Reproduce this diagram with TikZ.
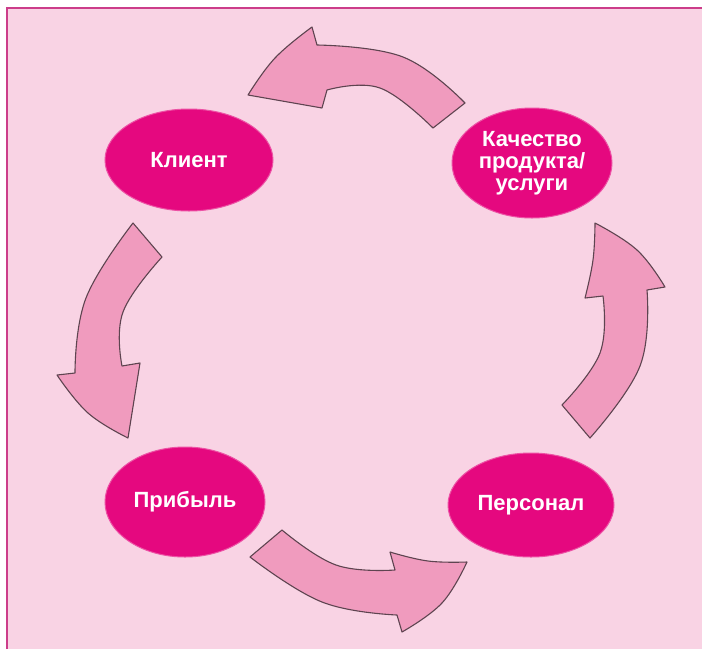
\documentclass[tikz,border=0pt]{standalone}
\usepackage{fontspec}
\setmainfont{Liberation Sans}
\usetikzlibrary{shapes.geometric}
\definecolor{bgpink}{HTML}{F9D3E4}
\definecolor{framecol}{HTML}{CC3D8A}
\definecolor{blobcol}{HTML}{E5087F}
\definecolor{arrowfill}{HTML}{F09BBE}
\definecolor{arrowline}{HTML}{5E4450}
\tikzset{
  blob/.style={ellipse, fill=blobcol, draw=blobcol!70!white, line width=1pt, inner sep=0pt,
    text=white, font=\fontsize{22}{22}\selectfont\bfseries, align=center},
  blockarrow/.style={fill=arrowfill, draw=arrowline, line width=1.1pt, line join=round},
  edge/.style={smooth, tension=0.7}
}
\begin{document}
\begin{tikzpicture}[x=1pt,y=-1pt]
\useasboundingbox (0,0) rectangle (702,649);
\fill[white] (0,0) rectangle (702,649);
\fill[bgpink] (7,8) rectangle (702,649);
\draw[framecol, line width=2pt] (7,649) -- (7,8) -- (702,8);

% nodes
\node[blob, minimum width=168pt, minimum height=102pt] (klient) at (189,160) {Клиент};
\node[blob, minimum width=160pt, minimum height=110pt] (kach) at (532,163) {Качество\\продукта/\\услуги};
\node[blob, minimum width=160pt, minimum height=110pt] (prib) at (185,502) {Прибыль};
\node[blob, minimum width=166pt, minimum height=104pt] (pers) at (531,505) {Персонал};

% top arrow (from Качество towards Клиент)
\draw[blockarrow] plot[edge] coordinates {(465,103) (403,57) (317,45)}
  -- plot[edge] coordinates {(312,27) (275,58) (248,95)}
  -- (322,108) -- (327,90)
  -- plot[edge] coordinates {(327,90) (380,88) (433,128)} -- cycle;

% left arrow (from Клиент towards Прибыль)
\draw[blockarrow] plot[edge] coordinates {(133,223) (86,298) (75,373)}
  -- plot[edge] coordinates {(57,375) (88,413) (128,438)}
  -- (140,363) -- (122,366)
  -- plot[edge] coordinates {(122,366) (123,312) (162,257)} -- cycle;

% bottom arrow (from Прибыль towards Персонал)
\draw[blockarrow] plot[edge] coordinates {(282,530) (336,565) (395,570)}
  -- plot[edge] coordinates {(390,552) (428,561) (467,562)}
  -- plot[edge] coordinates {(467,562) (442,603) (402,632)}
  -- (397,615)
  -- plot[edge] coordinates {(397,615) (322,602) (250,557)} -- cycle;

% right arrow (from Персонал towards Качество)
\draw[blockarrow] plot[edge] coordinates {(562,405) (600,353) (603,296)}
  -- (585,298)
  -- plot[edge] coordinates {(585,298) (593,260) (595,223)}
  -- plot[edge] coordinates {(595,223) (637,250) (665,287)}
  -- (647,290)
  -- plot[edge] coordinates {(647,290) (640,366) (590,438)} -- cycle;
\end{tikzpicture}
\end{document}
